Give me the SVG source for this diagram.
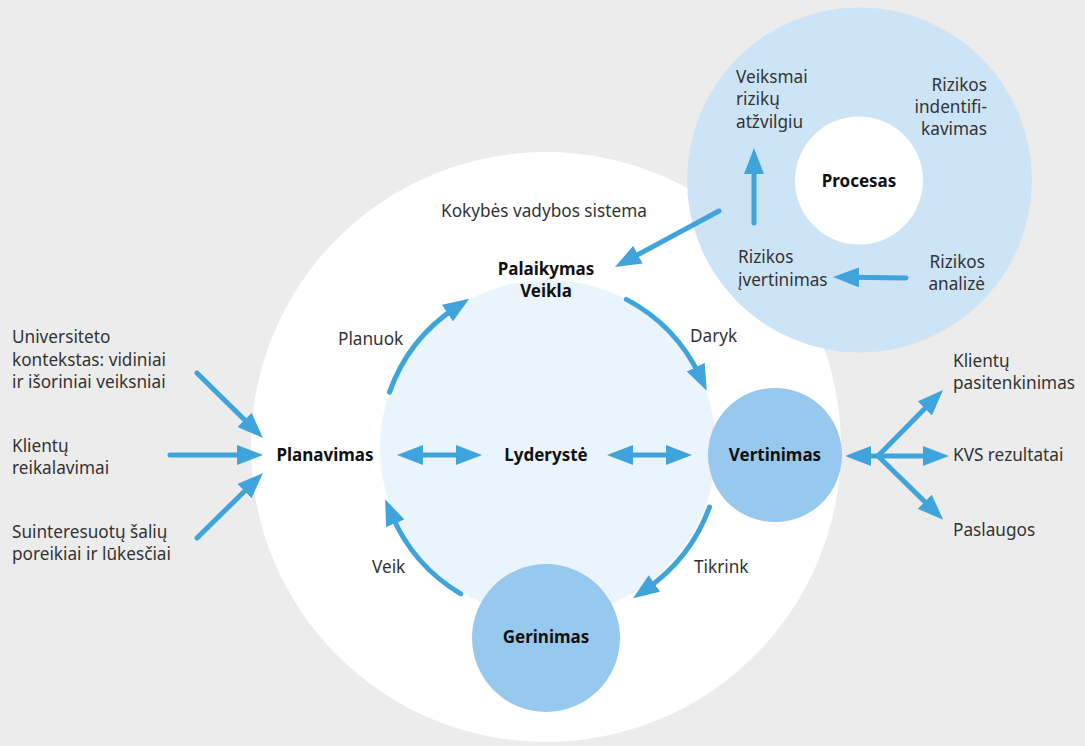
<svg xmlns="http://www.w3.org/2000/svg" width="1085" height="746" viewBox="0 0 1085 746">
<style>
text{font-family:"Noto Sans","Open Sans","DejaVu Sans",sans-serif;font-size:17.2px;fill:#333;font-weight:400}
.b{font-weight:700;fill:#111;text-anchor:middle;font-size:17px}
.r{text-anchor:end}
.a{fill:none;stroke:#40a4dc;stroke-width:5;stroke-linecap:round;marker-end:url(#ah)}
.d{marker-start:url(#ah)}
</style>
<defs>
<marker id="ah" viewBox="0 0 26 20" markerWidth="26" markerHeight="20" markerUnits="userSpaceOnUse" refX="10" refY="10" orient="auto-start-reverse">
<path d="M0,0 L26,10 L0,20 z" fill="#40a4dc"/>
</marker>
</defs>
<rect width="1085" height="746" fill="#ececec"/>
<g id="kvs">
<circle cx="546" cy="447" r="295" fill="#fff"/>
<text x="441" y="217">Kokybės vadybos sistema</text>
</g>
<g id="veikla">
<circle cx="548" cy="448" r="168" fill="#eaf4fd"/>
<text class="b" x="546" y="275">Palaikymas</text>
<text class="b" x="546" y="297">Veikla</text>
</g>
<g id="procesas-ring">
<circle cx="859.5" cy="180" r="172.5" fill="#cde4f7"/>
<text x="736" y="83">Veiksmai</text>
<text x="736" y="105">rizikų</text>
<text x="736" y="128">atžvilgiu</text>
<text class="r" x="987" y="91">Rizikos</text>
<text class="r" x="987" y="113">indentifi-</text>
<text class="r" x="987" y="135">kavimas</text>
<text x="738" y="263">Rizikos</text>
<text x="738" y="286">įvertinimas</text>
<text class="r" x="985" y="268">Rizikos</text>
<text class="r" x="985" y="290">analizė</text>
</g>
<g id="procesas">
<circle cx="859" cy="180.5" r="64" fill="#fff"/>
<text class="b" x="859" y="187">Procesas</text>
</g>
<g id="vertinimas">
<circle cx="775" cy="455" r="67" fill="#97c8ee"/>
<text class="b" x="775" y="461">Vertinimas</text>
</g>
<g id="gerinimas">
<circle cx="546" cy="638" r="74" fill="#97c8ee"/>
<text class="b" x="546" y="643">Gerinimas</text>
</g>
<g id="planavimas"><text class="b" x="325" y="461">Planavimas</text></g>
<g id="lyderyste"><text class="b" x="546" y="461">Lyderystė</text></g>
<g id="inputs">
<text x="12" y="343">Universiteto</text>
<text x="12" y="366">kontekstas: vidiniai</text>
<text x="12" y="388">ir išoriniai veiksniai</text>
<text x="12" y="452">Klientų</text>
<text x="12" y="474">reikalavimai</text>
<text x="12" y="538">Suinteresuotų šalių</text>
<text x="12" y="560">poreikiai ir lūkesčiai</text>
</g>
<g id="outputs">
<text x="953" y="367">Klientų</text>
<text x="953" y="389">pasitenkinimas</text>
<text x="953" y="461">KVS rezultatai</text>
<text x="953" y="536">Paslaugos</text>
</g>
<g id="cycle-labels">
<text x="338" y="345">Planuok</text>
<text x="690" y="342">Daryk</text>
<text x="372" y="573">Veik</text>
<text x="694" y="573">Tikrink</text>
</g>
<g id="connectors">
<path class="a" d="M197,373 L251.6,426.8"/>
<path class="a" d="M170,455 L247,455"/>
<path class="a" d="M197,538 L251.6,484.2"/>
<path class="a d" d="M413,455 L466,455"/>
<path class="a d" d="M623,455 L676,455"/>
<path class="a" d="M878,456 L861,456"/>
<path class="a" d="M878,456 L931.8,401.4"/>
<path class="a" d="M878,456 L933,456"/>
<path class="a" d="M878,456 L931.8,508.6"/>
<path class="a" d="M719,211 L629.1,259.4"/>
<path class="a" d="M754,223 L754,164"/>
<path class="a" d="M906,278 L849,277.2"/>
<path class="a" d="M389.5,392.2 A168,168 0 0 1 455.8,307.6"/>
<path class="a" d="M626.4,299.4 A168,168 0 0 1 699.9,376.2"/>
<path class="a" d="M709.5,507.1 A172,172 0 0 1 646.2,589.2"/>
<path class="a" d="M460.7,593.9 A170,170 0 0 1 391.4,514.1"/>
</g>
</svg>
